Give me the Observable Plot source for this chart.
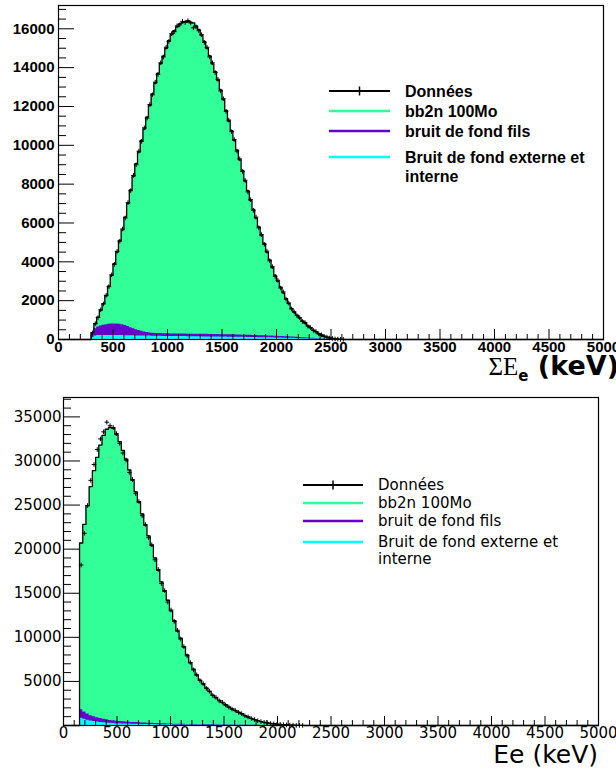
<!DOCTYPE html>
<html><head><meta charset="utf-8">
<script src="https://cdn.jsdelivr.net/npm/d3@7"></script>
<script src="https://cdn.jsdelivr.net/npm/@observablehq/plot@0.6"></script>
<style>
body{margin:0;background:#fff;}
#wrap{position:relative;width:616px;height:772px;overflow:hidden;background:#fff;}
.panel{position:absolute;left:0;}
#overlay{position:absolute;left:0;top:0;pointer-events:none;}
</style></head><body><div id="wrap"></div>
<script>
// ---------- Top panel: ΣEe, bins of 25 keV starting at 300 keV ----------
const topStart = 300, topWidth = 25;
const topBb2n = [100,240,500,800,1120,1490,1970,2500,3100,3700,
 4310,4890,5590,6340,7090,7840,8550,9190,9830,10460,
 11090,11710,12330,12890,13400,13900,14300,14700,15100,15410,
 15610,15820,15970,16040,16090,16100,16070,16030,15880,15680,
 15380,15090,14740,14340,13940,13540,13090,12600,12100,11550,
 11010,10510,10010,9520,9020,8480,7930,7440,6940,6490,
 6050,5600,5160,4760,4310,3920,3520,3130,2830,2540,
 2250,1950,1710,1470,1280,1140,1000,860,760,620,
 530,420,350,260,200,150,100,65,40,22,
 15,7,4];
const topFils = [160,380,450,500,530,560,580,600,600,600,
 590,560,520,470,420,370,320,280,240,210,
 185,165,150,145,140,138,136,135,135,134,
 134,133,133,132,132,131,131,130,130,130,
 130,129,129,128,128,127,127,126,125,124,
 123,122,120,118,116,114,112,110,108,106,
 104,102,100,98,96,94,92,90,88,85,
 82,78,74,70,65,60,55,50,45,40,
 34,28,22,16,12,9,7,5,3,2,
 1,1,0];
const topExt = [90,180,200,200,200,200,200,200,200,200,
 200,200,195,195,190,190,185,185,180,180,
 175,175,170,170,165,165,160,160,160,155,
 155,150,150,150,150,145,145,145,140,140,
 140,135,135,135,130,130,130,125,125,125,
 120,120,120,115,115,110,110,105,105,100,
 100,95,95,90,90,85,85,80,80,75,
 70,70,65,60,60,55,50,45,45,40,
 35,30,25,20,18,15,12,10,8,6,
 4,2,1];
const topData = [340,820,1130,1530,1830,2280,2720,3330,3870,4540,
 5060,5690,6260,7050,7660,8450,9000,9700,10200,10900,
 11400,12100,12600,13250,13650,14250,14550,15050,15350,15750,
 15850,16150,16200,16380,16320,16420,16300,16050,16100,15900,
 15700,15300,15050,14550,14250,13750,13400,12800,12400,11750,
 11300,10700,10300,9700,9300,8650,8200,7600,7200,6650,
 6300,5750,5400,4900,4550,4050,3750,3250,3050,2650,
 2450,2080,1880,1570,1420,1230,1120,930,870,690,
 610,470,410,290,240,160,125,75,55,28,
 22,8,6];
const topYTicks = [0,2000,4000,6000,8000,10000,12000,14000,16000];
const topXTicks = [0,500,1000,1500,2000,2500,3000,3500,4000,4500,5000];

// ---------- Bottom panel: Ee, bins of 30 keV starting at 150 keV ----------
const botStart = 150, botWidth = 30;
const botBb2n = [18920,21280,23600,25980,27920,29520,31010,32190,32960,33220,
 33170,32510,31750,30780,29810,28630,27450,26170,24990,23710,
 22430,21240,20160,18770,17390,16100,15020,14030,12840,11750,
 10550,9760,8770,7880,6980,6290,5600,5060,4610,4170,
 3770,3380,3080,2790,2540,2300,2030,1840,1660,1470,
 1290,1100,940,780,640,540,430,350,280,220,
 175,145,115,85,62,43,28,17,10,5];
const botFils = [950,820,700,600,530,480,440,400,360,330,
 300,280,260,240,225,210,200,190,180,170,
 160,150,140,130,120,110,100,95,90,85,
 80,76,72,68,64,60,56,52,48,45,
 42,39,36,33,30,27,24,21,18,16,
 14,12,10,9,8,7,6,5,4,3,
 3,2,2,2,1,1,1,0,0,0];
const botExt = [830,700,600,520,450,400,350,310,280,250,
 230,210,195,180,170,160,150,140,130,120,
 115,110,105,100,95,90,85,80,75,70,
 66,62,58,55,52,49,46,43,40,38,
 36,34,32,30,28,26,24,22,20,18,
 16,14,12,10,9,8,7,6,5,4,
 3,3,2,2,2,1,1,1,0,0];
const botData = [18200,21800,24950,27800,29600,31300,32500,33300,34400,34000,
 33800,33100,32000,30900,30100,28700,27900,26300,25400,23800,
 22800,21300,20500,18800,17700,16100,15300,14000,13100,11800,
 10800,9800,8950,7900,7150,6300,5750,5100,4750,4200,
 3900,3400,3200,2800,2630,2320,2100,1860,1720,1480,
 1340,1110,970,790,670,540,450,350,300,220,
 185,145,125,85,68,42,32,16,11,4];
const botYTicks = [5000,10000,15000,20000,25000,30000,35000];
const botXTicks = [0,500,1000,1500,2000,2500,3000,3500,4000,4500,5000];

const legendLabels = ["Données","bb2n 100Mo","bruit de fond fils","Bruit de fond externe et","interne"];
const GREEN = "#33ff99", PURPLE = "#6600cc", CYAN = "#00ffff";
const XMAX = 5000;

function stackRows(start, width, ext, fils, bb2n) {
  const rows = [{x: 0, c1: 0, c2: 0, c3: 0}];
  bb2n.forEach((b, i) => {
    const e = ext[i] || 0, f = fils[i] || 0;
    rows.push({x: start + i * width, c1: e, c2: e + f, c3: e + f + b});
  });
  rows.push({x: start + bb2n.length * width, c1: 0, c2: 0, c3: 0});
  rows.push({x: XMAX, c1: 0, c2: 0, c3: 0});
  return rows;
}
function dataRows(start, width, data) {
  return data.map((v, i) => ({x: start + (i + 0.5) * width, y: v}));
}
const fmt = d3.format("d");

function panel(o) {
  const rows = stackRows(o.start, o.width, o.ext, o.fils, o.bb2n);
  const pts = dataRows(o.start, o.width, o.data);
  const minorX = d3.range(0, XMAX + 1, 100).filter(v => v % 500 !== 0);
  const minorY = d3.range(0, o.ymax, o.yMinor).filter(v => v % o.yMajor !== 0);
  const majorYAll = d3.range(0, o.ymax, o.yMajor);
  return Plot.plot({
    width: 616, height: o.height,
    marginLeft: o.ml, marginRight: o.mr, marginTop: o.mt, marginBottom: o.mb,
    x: {domain: [0, XMAX]},
    y: {domain: [0, o.ymax]},
    style: {fontFamily: o.font, fontSize: o.fontSize + "px", fontWeight: o.weight, color: "black", background: "white"},
    marks: [
      Plot.areaY(rows, {x: "x", y: "c3", curve: "step-after", fill: GREEN}),
      Plot.areaY(rows, {x: "x", y: "c2", curve: "step-after", fill: PURPLE}),
      Plot.areaY(rows, {x: "x", y: "c1", curve: "step-after", fill: CYAN}),
      Plot.lineY(rows, {x: "x", y: "c3", curve: "step-after", stroke: "black", strokeWidth: 1.3}),
      Plot.dot(pts, {x: "x", y: "y", symbol: "plus", r: 1.6, stroke: "black", strokeWidth: 1}),
      Plot.frame({stroke: "black", strokeWidth: 1.2}),
      Plot.axisY(majorYAll, {anchor: "left", tickSize: o.yMajLen, dx: o.yMajLen, tickFormat: () => "", label: null}),
      Plot.axisY(minorY, {anchor: "left", tickSize: 8, dx: 8, tickFormat: () => "", label: null}),
      Plot.axisY(o.yTicks, {anchor: "left", tickSize: 0, tickPadding: o.yPad, tickFormat: fmt, label: null}),
      Plot.axisX(o.xTicks, {anchor: "bottom", tickSize: o.xMajLen, dy: -o.xMajLen, tickFormat: () => "", label: null}),
      Plot.axisX(minorX, {anchor: "bottom", tickSize: o.xMinLen, dy: -o.xMinLen, tickFormat: () => "", label: null}),
      Plot.axisX(o.xTicks, {anchor: "bottom", tickSize: 0, tickPadding: o.xPad, tickFormat: fmt, label: null})
    ]
  });
}

const wrap = document.getElementById("wrap");

const topPlot = panel({
  start: topStart, width: topWidth, bb2n: topBb2n, fils: topFils, ext: topExt, data: topData,
  height: 380, ml: 58, mr: 13, mt: 5, mb: 41, ymax: 17200, yMajor: 2000, yMinor: 500,
  yTicks: topYTicks, xTicks: topXTicks, yMajLen: 16, xMajLen: 10, xMinLen: 5,
  yPad: 4, xPad: 2, font: "'Liberation Sans', Arial, sans-serif", fontSize: 15, weight: "bold"
});
topPlot.classList.add("panel");
topPlot.style.top = "0px";
wrap.appendChild(topPlot);

const botPlot = panel({
  start: botStart, width: botWidth, bb2n: botBb2n, fils: botFils, ext: botExt, data: botData,
  height: 392, ml: 63, mr: 18, mt: 17, mb: 47, ymax: 37200, yMajor: 5000, yMinor: 1000,
  yTicks: botYTicks, xTicks: botXTicks, yMajLen: 17, xMajLen: 9, xMinLen: 5,
  yPad: 2, xPad: 2, font: "'DejaVu Sans', sans-serif", fontSize: 15, weight: "normal"
});
botPlot.classList.add("panel");
botPlot.style.top = "380px";
wrap.appendChild(botPlot);

// ---------- Legends and axis titles (overlay) ----------
const svg = d3.select(wrap).append("svg").attr("id", "overlay").attr("width", 616).attr("height", 772);
function legend(g, o) {
  const colors = ["black", GREEN, PURPLE, CYAN];
  const ys = o.ys;
  colors.forEach((c, i) => {
    g.append("line").attr("x1", o.x1).attr("x2", o.x2).attr("y1", ys[i]).attr("y2", ys[i])
      .attr("stroke", c).attr("stroke-width", i === 0 ? 2 : 2.6);
  });
  const mid = (o.x1 + o.x2) / 2;
  g.append("line").attr("x1", mid).attr("x2", mid).attr("y1", ys[0] - 4.5).attr("y2", ys[0] + 4.5)
    .attr("stroke", "black").attr("stroke-width", 1.5);
  const tys = [ys[0], ys[1], ys[2], ys[3], o.y5];
  legendLabels.forEach((t, i) => {
    g.append("text").attr("x", o.tx).attr("y", tys[i]).attr("dy", "0.35em")
      .attr("font-family", o.font).attr("font-size", o.size).attr("font-weight", o.weight)
      .attr("fill", "black").text(t);
  });
}
legend(svg.append("g"), {x1: 329, x2: 390, tx: 405, ys: [91, 111, 131, 157], y5: 176,
  font: "'Liberation Sans', Arial, sans-serif", size: 16, weight: "bold"});
legend(svg.append("g"), {x1: 303, x2: 363, tx: 378, ys: [485, 503, 521, 542], y5: 559,
  font: "'DejaVu Sans', sans-serif", size: 15, weight: "normal"});

const t1 = svg.append("text").attr("x", 619).attr("y", 375).attr("text-anchor", "end").attr("fill", "black");
t1.append("tspan").attr("font-family", "'Liberation Serif', 'DejaVu Serif', serif").attr("font-size", 25).text("ΣE");
t1.append("tspan").attr("font-family", "'DejaVu Sans', sans-serif").attr("font-weight", "bold").attr("font-size", 15).attr("dy", 6).text("e");
t1.append("tspan").attr("font-family", "'DejaVu Sans', sans-serif").attr("font-weight", "bold").attr("font-size", 27).attr("dy", -6).text("\u00a0(keV)");

svg.append("text").attr("x", 598).attr("y", 763).attr("text-anchor", "end")
  .attr("font-family", "'DejaVu Sans', sans-serif").attr("font-size", 25).attr("fill", "black").text("Ee (keV)");
</script>
</body></html>
